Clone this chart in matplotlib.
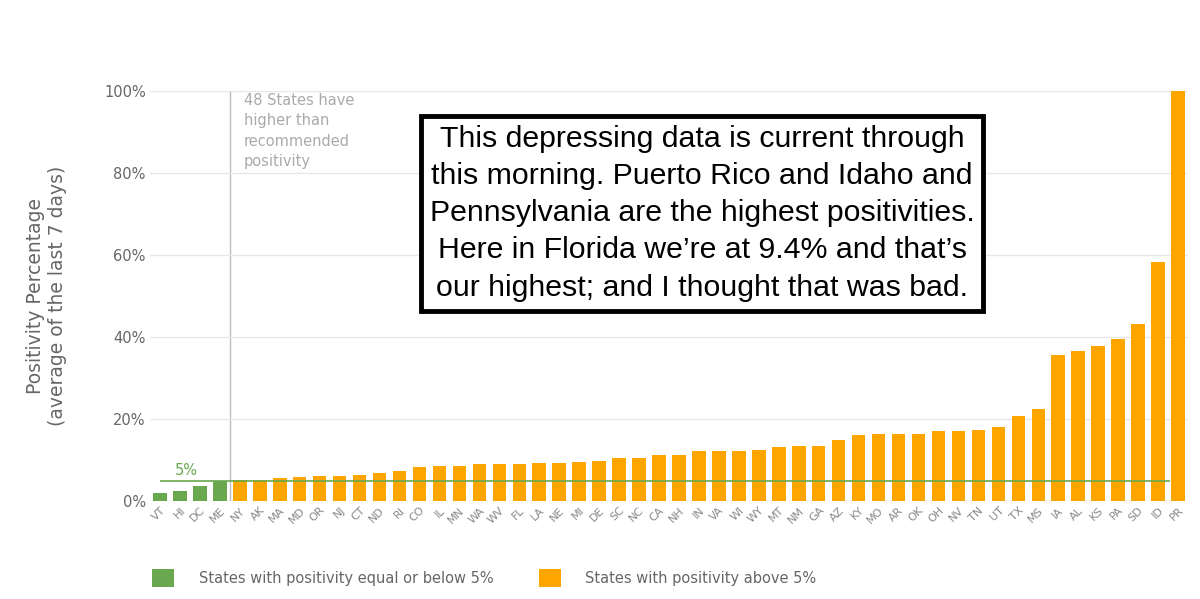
import matplotlib
matplotlib.use('Agg')
import matplotlib.pyplot as plt
from matplotlib.patches import Patch

# states sorted by positivity
states = ['VT', 'HI', 'DC', 'ME', 'NY', 'AK', 'MA', 'MD', 'OR', 'NJ', 'CT', 'ND',
          'RI', 'CO', 'IL', 'MN', 'WA', 'WV', 'FL', 'LA', 'NE', 'MI', 'DE', 'SC',
          'NC', 'CA', 'NH', 'IN', 'VA', 'WI', 'WY', 'MT', 'NM', 'GA', 'AZ', 'KY',
          'MO', 'AR', 'OK', 'OH', 'NV', 'TN', 'UT', 'TX', 'MS', 'IA', 'AL', 'KS',
          'PA', 'SD', 'ID', 'PR']
positivity = [1.9, 2.5, 3.6, 5.0, 5.1, 5.2, 5.6, 5.9, 6.0, 6.0, 6.4, 6.9,
              7.4, 8.4, 8.5, 8.5, 9.0, 9.0, 9.0, 9.2, 9.2, 9.6, 9.8, 10.6,
              10.6, 11.1, 11.1, 12.2, 12.3, 12.3, 12.5, 13.1, 13.3, 13.3, 14.9, 16.0,
              16.3, 16.3, 16.3, 17.0, 17.1, 17.4, 18.1, 20.8, 22.4, 35.5, 36.7, 37.8,
              39.4, 43.2, 58.3, 100.0]
threshold = 5
yticks = [0, 20, 40, 60, 80, 100]

green = '#6aa84f'
orange = '#ffa500'
colors = [green if v <= threshold else orange for v in positivity]

fig = plt.figure(figsize=(12, 5.99), dpi=100)
ax = fig.add_axes([0.125, 0.1636, 0.865, 0.6845])

x = range(len(states))
ax.bar(x, positivity, width=0.68, color=colors, zorder=2)

ax.set_xlim(-0.5, len(states) - 0.5)
ax.set_ylim(0, 100)
ax.set_yticks(yticks)
ax.set_yticklabels([f'{t}%' for t in yticks], color='#666666', fontsize=10.5)
ax.set_xticks(list(x))
ax.set_xticklabels(states, rotation=45, ha='right', rotation_mode='anchor',
                   color='#888888', fontsize=8)
ax.tick_params(length=0, pad=3)
ax.yaxis.grid(True, color='#e8e8e8', linewidth=1, zorder=0)
for s in ax.spines.values():
    s.set_visible(False)

# 5% threshold line and separator
ax.hlines(threshold, 0, 50.6, color=green, linewidth=1.2, zorder=3)
ax.text(0.75, threshold + 0.6, '5%', color=green, fontsize=10.5, va='bottom')
ax.axvline(3.5, color='#bbbbbb', linewidth=1, zorder=1)
ax.text(4.2, 99.5, '48 States have\nhigher than\nrecommended\npositivity',
        color='#aaaaaa', fontsize=10.5, va='top', ha='left', linespacing=1.45)

ax.set_ylabel('Positivity Percentage\n(average of the last 7 days)',
              color='#666666', fontsize=13.5, labelpad=27)

# callout box
fig.text(0.585, 0.644,
         "This depressing data is current through\n"
         "this morning. Puerto Rico and Idaho and\n"
         "Pennsylvania are the highest positivities.\n"
         "Here in Florida we\u2019re at 9.4% and that\u2019s\n"
         "our highest; and I thought that was bad.",
         family='Liberation Sans', fontsize=21.8, ha='center', va='center',
         linespacing=1.42,
         bbox=dict(boxstyle='square,pad=0.3', facecolor='white',
                   edgecolor='black', linewidth=3.5))

handles = [Patch(facecolor=green, label='States with positivity equal or below 5%'),
           Patch(facecolor=orange, label='States with positivity above 5%')]
fig.legend(handles=handles, loc='center left', bbox_to_anchor=(0.116, 0.035),
           ncol=2, frameon=False, handlelength=1.5, handleheight=1.5,
           handletextpad=1.7, columnspacing=3.1, labelcolor='#666666', fontsize=10.5)

fig.savefig('out.png', dpi=100, facecolor='white')
